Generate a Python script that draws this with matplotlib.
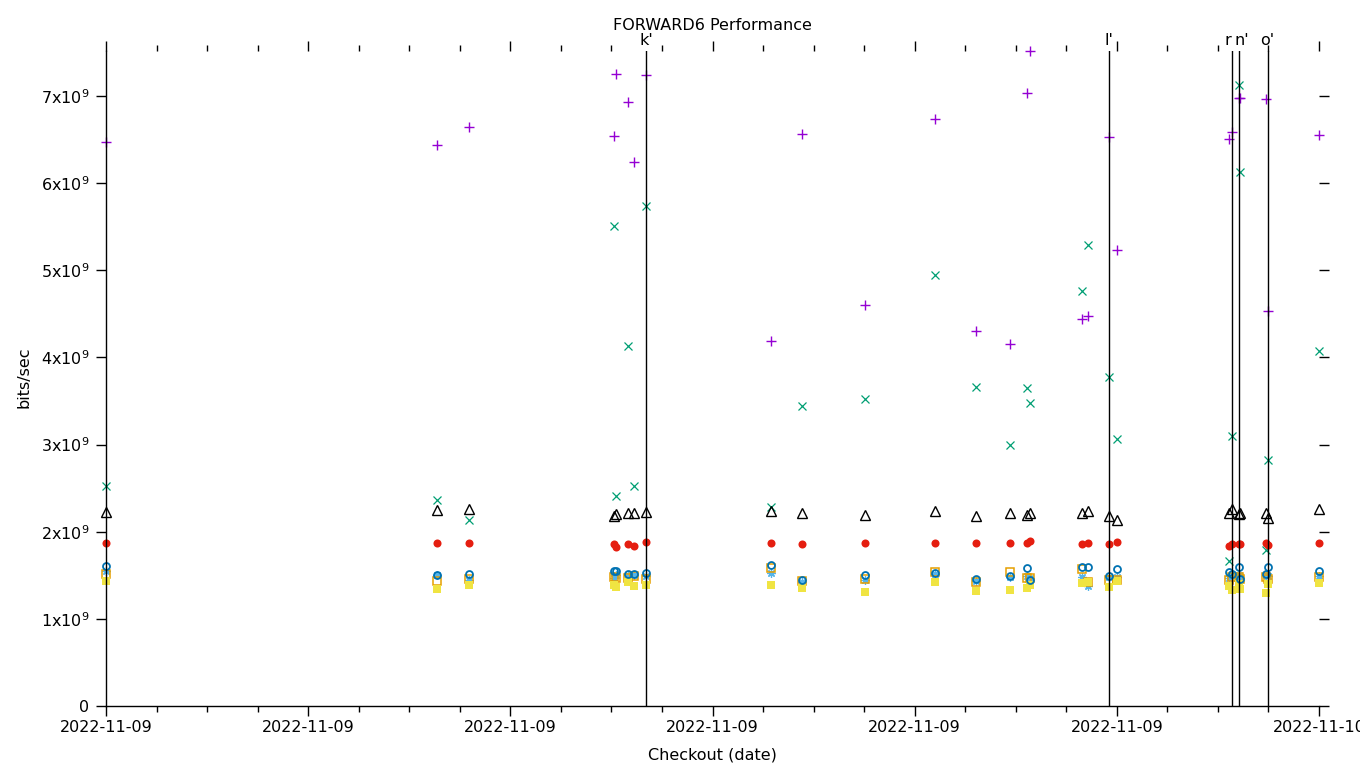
import matplotlib
matplotlib.use("Agg")
import matplotlib.pyplot as plt
import matplotlib.dates as mdates
from datetime import datetime

# ---- data -------------------------------------------------------------
checkouts = [
    "2022-11-09 00:00", "2022-11-09 06:33", "2022-11-09 07:11", "2022-11-09 10:03",
    "2022-11-09 10:05", "2022-11-09 10:20", "2022-11-09 10:27", "2022-11-09 10:41",
    "2022-11-09 13:10", "2022-11-09 13:46", "2022-11-09 15:01", "2022-11-09 16:24",
    "2022-11-09 17:13", "2022-11-09 17:53", "2022-11-09 18:13", "2022-11-09 18:17",
    "2022-11-09 19:19", "2022-11-09 19:26", "2022-11-09 19:51", "2022-11-09 20:00",
    "2022-11-09 22:13", "2022-11-09 22:17", "2022-11-09 22:25", "2022-11-09 22:26",
    "2022-11-09 22:57", "2022-11-09 22:59", "2022-11-10 00:00",
]

# values in units of 1e9 bits/sec
s_plus = [6.47, 6.44, 6.64, 6.54, 7.25, 6.93, 6.24, 7.24, 4.19, 6.56, 4.60, 6.74, 4.30, 4.15,
          7.04, 7.52, 4.44, 4.48, 6.53, 5.23, 6.51, 6.59, 6.98, 6.98, 6.97, 4.53, 6.55]
s_cross = [2.52, 2.36, 2.13, 5.51, 2.41, 4.13, 2.53, 5.74, 2.28, 3.44, 3.52, 4.95, 3.66, 2.99,
           3.65, 3.48, 4.76, 5.29, 3.78, 3.06, 1.66, 3.10, 7.13, 6.13, 1.79, 2.82, 4.07]
s_star = [1.55, 1.50, 1.45, 1.47, 1.50, 1.50, 1.50, 1.49, 1.53, 1.42, 1.45, 1.52, 1.44, 1.48,
          1.49, 1.47, 1.48, 1.38, 1.48, 1.48, 1.47, 1.50, 1.50, 1.47, 1.50, 1.49, 1.49]
s_osq = [1.52, 1.43, 1.46, 1.48, 1.47, 1.47, 1.49, 1.46, 1.58, 1.43, 1.46, 1.54, 1.42, 1.54,
         1.47, 1.47, 1.57, 1.42, 1.45, 1.45, 1.45, 1.48, 1.48, 1.46, 1.48, 1.46, 1.48]
s_fsq = [1.43, 1.34, 1.39, 1.39, 1.37, 1.42, 1.38, 1.39, 1.39, 1.35, 1.31, 1.42, 1.32, 1.33,
         1.35, 1.39, 1.41, 1.42, 1.37, 1.43, 1.38, 1.33, 1.40, 1.34, 1.30, 1.40, 1.41]
s_ocirc = [1.61, 1.50, 1.51, 1.55, 1.55, 1.51, 1.52, 1.53, 1.62, 1.45, 1.50, 1.53, 1.46, 1.49,
           1.58, 1.45, 1.60, 1.60, 1.49, 1.57, 1.54, 1.51, 1.60, 1.46, 1.52, 1.60, 1.55]
s_fcirc = [1.87, 1.87, 1.87, 1.86, 1.83, 1.86, 1.84, 1.88, 1.87, 1.86, 1.87, 1.87, 1.87, 1.87,
           1.87, 1.89, 1.86, 1.87, 1.86, 1.88, 1.84, 1.86, 1.86, 1.86, 1.87, 1.85, 1.87]
s_tri = [2.23, 2.25, 2.26, 2.18, 2.20, 2.22, 2.22, 2.23, 2.24, 2.21, 2.19, 2.24, 2.18, 2.21,
         2.19, 2.22, 2.22, 2.24, 2.18, 2.13, 2.21, 2.26, 2.20, 2.21, 2.21, 2.16, 2.26]

marker_times = ["2022-11-09 10:41", "2022-11-09 19:51", "2022-11-09 22:17",
                "2022-11-09 22:25", "2022-11-09 22:59"]
marker_labels = ["k'", "l'", "r", "n'", "o'"]

y_ticks = [0, 1, 2, 3, 4, 5, 6, 7]
x_start, x_end = "2022-11-09 00:00", "2022-11-10 00:00"

# ---- plot -------------------------------------------------------------
FS = 11.5
plt.rcParams['font.family'] = ['DejaVu Sans']
W, H = 1360, 768
fig = plt.figure(figsize=(W / 100, H / 100), dpi=100)
L, R, T, B = 106, 1319, 51, 706
ax = fig.add_axes([L / W, 1 - B / H, (R - L) / W, (B - T) / H])

fmt = "%Y-%m-%d %H:%M"
xs = [datetime.strptime(s, fmt) for s in checkouts]
scale = 1e9

def pts(vals):
    return [v * scale for v in vals]

ax.plot(xs, pts(s_plus), linestyle='none', marker='+', ms=6.5, mew=1.0,
        color='#9400d3', clip_on=False)
ax.plot(xs, pts(s_cross), linestyle='none', marker='x', ms=5.8, mew=0.9,
        color='#009e73', clip_on=False)
ax.plot(xs, pts(s_star), linestyle='none', marker=(8, 2, 0), ms=6, mew=0.9,
        color='#56b4e9', clip_on=False)
ax.plot(xs, pts(s_osq), linestyle='none', marker='s', ms=5.2, mew=1.1,
        mfc='none', mec='#e69f00', clip_on=False)
ax.plot(xs, pts(s_fsq), linestyle='none', marker='s', ms=5.6, mew=0,
        color='#f0e442', clip_on=False)
ax.plot(xs, pts(s_ocirc), linestyle='none', marker='o', ms=5.0, mew=1.3,
        mfc='none', mec='#0072b2', clip_on=False)
ax.plot(xs, pts(s_fcirc), linestyle='none', marker='o', ms=5.8, mew=0,
        color='#e51e10', clip_on=False)
ax.plot(xs, pts(s_tri), linestyle='none', marker='^', ms=6.5, mew=1.0,
        mfc='none', mec='black', clip_on=False)

label_shift = {"r": -3, "n'": 2}
for t, lab in zip(marker_times, marker_labels):
    xt = datetime.strptime(t, fmt)
    ax.axvline(xt, ymin=0, ymax=1, color='black', lw=1.0)
    ax.annotate(lab, xy=(mdates.date2num(xt), 1.0), xycoords=('data', 'axes fraction'),
                xytext=(label_shift.get(lab, 0), 4), textcoords='offset points',
                ha='center', va='baseline', fontsize=FS)

ax.set_xlim(datetime.strptime(x_start, fmt), datetime.strptime(x_end, fmt))
ax.set_ylim(0, 7.517e9)

ax.xaxis.set_major_locator(mdates.HourLocator(byhour=[0, 4, 8, 12, 16, 20]))
ax.xaxis.set_minor_locator(mdates.HourLocator())
ax.xaxis.set_major_formatter(mdates.DateFormatter("%Y-%m-%d"))

ax.set_yticks([v * scale for v in y_ticks])
ax.set_yticklabels(["0" if v == 0 else r"%dx10$^{9}$" % v for v in y_ticks])

for s in ['top', 'right']:
    ax.spines[s].set_visible(False)
for s in ['left', 'bottom']:
    ax.spines[s].set_linewidth(1.0)

ax.tick_params(axis='both', which='major', direction='out', length=7, width=1,
               labelsize=FS, top=True, right=True)
ax.tick_params(axis='x', which='minor', direction='out', length=4, width=1, top=True)
ax.tick_params(axis='x', which='major', pad=3)
ax.tick_params(axis='y', which='major', pad=5)

fig.text((L + R) / 2 / W, 1 - 25 / H, "FORWARD6 Performance", ha='center', va='center',
         fontsize=FS)
fig.text((L + R) / 2 / W, 1 - 755 / H, "Checkout (date)", ha='center', va='center',
         fontsize=FS)
fig.text(24 / W, 1 - 377 / H, "bits/sec", ha='center', va='center', rotation=90,
         fontsize=FS)

fig.savefig("out.png", dpi=100)
